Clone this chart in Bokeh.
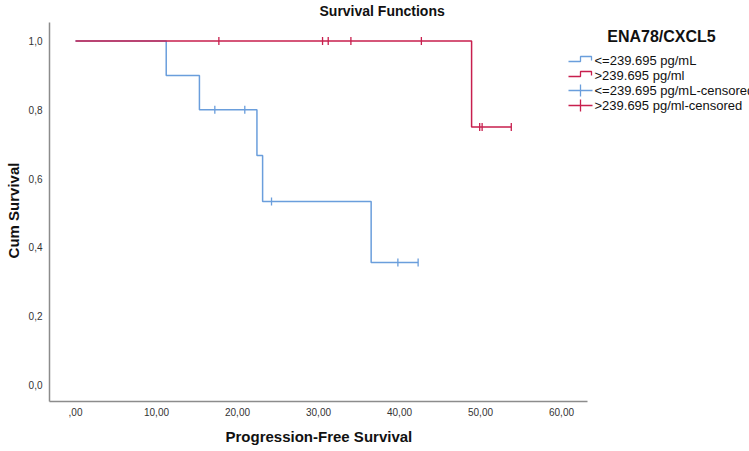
import numpy as np
from bokeh.plotting import figure
from bokeh.models import Range1d, FixedTicker, Label, Title
from bokeh.core.properties import value
from bokeh.embed import file_html
from bokeh.resources import INLINE

# ---------------- data ----------------
title_text = "Survival Functions"
x_label = "Progression-Free Survival"
y_label = "Cum Survival"
legend_title = "ENA78/CXCL5"
group_names = ["<=239.695 pg/mL", ">239.695 pg/ml"]
censor_names = ["<=239.695 pg/mL-censored", ">239.695 pg/ml-censored"]

# low group (blue): event times and survival after each event
low_event_t = [0.0, 11.2, 15.3, 22.4, 23.1, 36.5]
low_event_s = [1.0, 0.900, 0.800, 0.667, 0.533, 0.356]
low_censor_t = [17.2, 20.9, 24.2, 39.8, 42.3]

# high group (red)
high_event_t = [0.0, 48.9]
high_event_s = [1.0, 0.750]
high_censor_t = [17.7, 30.5, 31.2, 34.0, 42.7, 49.9, 50.2, 53.8]

x_ticks = [0, 10, 20, 30, 40, 50, 60]
x_tick_labels = [",00", "10,00", "20,00", "30,00", "40,00", "50,00", "60,00"]
y_ticks = [0.0, 0.2, 0.4, 0.6, 0.8, 1.0]
y_tick_labels = ["0,0", "0,2", "0,4", "0,6", "0,8", "1,0"]

BLUE = "#6a9edc"
RED = "#c81f4e"
FONT = "Liberation Sans"

# ---------------- helpers ----------------
def km_curve(t, s, censor):
    last = max(max(t), max(censor))
    return list(t) + [last], list(s) + [s[-1]]

def surv_at(t, s, times):
    t = np.asarray(t); s = np.asarray(s)
    return [float(s[np.searchsorted(t, c, side="right") - 1]) for c in times]

# pixel position on the canvas -> data coords (used only for decorations)
def X(px):
    return (px - 75.0) / 8.1

def Y(py):
    return (383.3 - py) / 343.8

W, H = 749, 451
LEFT, BOTTOM, TOP = 49, 51, 18
p = figure(width=W, height=H, output_backend="svg", toolbar_location=None,
           x_range=Range1d(X(LEFT), X(W)), y_range=Range1d(Y(H - BOTTOM), Y(TOP)),
           min_border_left=LEFT, min_border_right=0, min_border_top=TOP,
           min_border_bottom=BOTTOM, frame_width=W - LEFT, frame_height=H - BOTTOM - TOP)
p.outline_line_color = None
p.grid.visible = False
p.background_fill_color = "white"
p.border_fill_color = "white"

# chart title
p.title.text = title_text
p.title.align = "left"
p.title.offset = 319 - LEFT
p.title.standoff = 1
p.title.text_font = FONT
p.title.text_font_size = "14px"
p.title.text_font_style = "bold"
p.title.text_color = "#111111"

for ax in (p.xaxis[0], p.yaxis[0]):
    ax.axis_line_color = "#8c8c8c"
    ax.axis_line_width = 1.5
    ax.major_tick_line_color = None
    ax.minor_tick_line_color = None
    ax.major_tick_out = 0
    ax.major_tick_in = 0
    ax.minor_tick_out = 0
    ax.minor_tick_in = 0
    ax.major_label_text_font = FONT
    ax.major_label_text_font_size = "10px"
    ax.major_label_text_color = "#333333"

p.xaxis[0].bounds = (X(LEFT), X(587))
p.yaxis[0].bounds = (Y(H - BOTTOM), Y(20.5))
p.xaxis[0].ticker = FixedTicker(ticks=x_ticks)
p.xaxis[0].major_label_overrides = {k: v for k, v in zip(x_ticks, x_tick_labels)}
p.yaxis[0].ticker = FixedTicker(ticks=y_ticks)
p.yaxis[0].major_label_overrides = {k: v for k, v in zip(y_ticks, y_tick_labels)}
p.xaxis[0].major_label_standoff = 6
p.yaxis[0].major_label_standoff = 7

# y axis title
p.yaxis[0].axis_label = y_label
p.yaxis[0].axis_label_standoff = 4
p.yaxis[0].axis_label_text_font = FONT
p.yaxis[0].axis_label_text_font_size = "15px"
p.yaxis[0].axis_label_text_font_style = "bold"
p.yaxis[0].axis_label_text_color = "#111111"

# x axis title as a side title (left aligned with offset)
p.add_layout(Title(text=x_label, align="left", offset=225 - LEFT, standoff=14,
                   text_font=FONT, text_font_size="15px", text_font_style="bold",
                   text_color="#111111"), "below")

# ---------------- curves ----------------
lx, ly = km_curve(low_event_t, low_event_s, low_censor_t)
hx, hy = km_curve(high_event_t, high_event_s, high_censor_t)
p.step(lx, ly, mode="after", line_color=BLUE, line_width=1.5)
p.step(hx, hy, mode="after", line_color=RED, line_width=1.5)

p.scatter(low_censor_t, surv_at(low_event_t, low_event_s, low_censor_t),
          marker="dash", angle=np.pi / 2, size=8, line_color=BLUE, line_width=1.3)
p.scatter(high_censor_t, surv_at(high_event_t, high_event_s, high_censor_t),
          marker="dash", angle=np.pi / 2, size=8, line_color=RED, line_width=1.3)

# ---------------- legend (custom, SPSS style) ----------------
p.add_layout(Label(x=X(661), y=Y(35), text=legend_title, text_align="center",
                   text_baseline="middle", text_font=FONT, text_font_size="16px",
                   text_font_style="bold", text_color="#111111"))
row_y = [59, 74, 89, 104]
colors = [BLUE, RED, BLUE, RED]
names = group_names + censor_names
for i, (ry, c, name) in enumerate(zip(row_y, colors, names)):
    if i < 2:
        p.line([X(568), X(580), X(580), X(591), X(591)],
               [Y(ry + 1), Y(ry + 1), Y(ry - 4), Y(ry - 4), Y(ry)],
               line_color=c, line_width=1.3)
    else:
        p.line([X(568), X(592)], [Y(ry), Y(ry)], line_color=c, line_width=1.3)
        p.line([X(580), X(580)], [Y(ry - 6), Y(ry + 6)], line_color=c, line_width=1.3)
    p.text([X(594)], [Y(ry)], text=[name], text_baseline="middle", text_align="left",
           text_font=value(FONT), text_font_size="13px", text_color="#111111")

open("out.html", "w").write(file_html(p, INLINE))
